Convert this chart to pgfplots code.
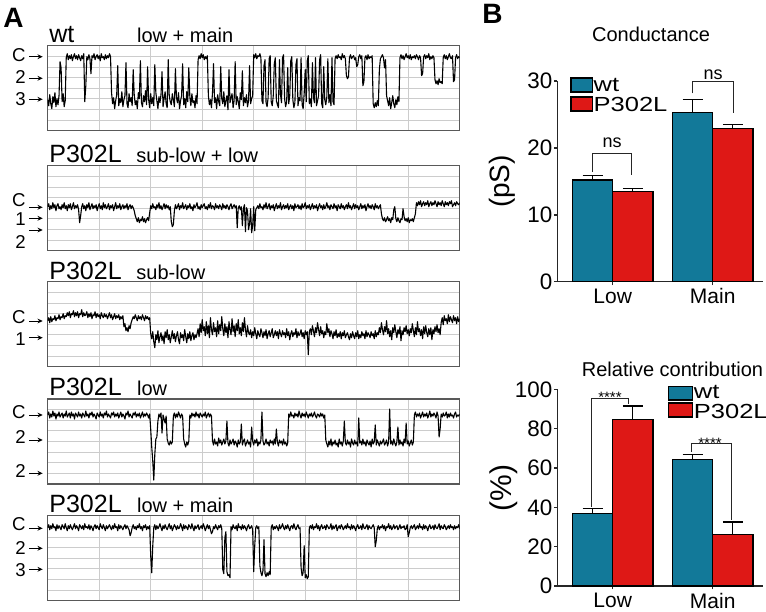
\documentclass[border=0pt]{standalone}
\usepackage{pgfplots}
\pgfplotsset{compat=1.18}
\usepackage{fontspec}
\setmainfont{Liberation Sans}
\newfontfamily\wide{Liberation Sans}[FakeStretch=1.25]
\usetikzlibrary{arrows.meta}
\definecolor{wtc}{RGB}{18,121,153}
\definecolor{p3c}{RGB}{222,24,22}
\newcommand\fs[1]{\fontsize{#1}{#1}\selectfont}
\pgfplotsset{
  trace/.style={scale only axis, width=206pt, height=42.5pt, anchor=north west,
    xmin=0, xmax=400, ymin=0, ymax=85, y dir=reverse,
    xtick={50,100,150,200,250,300,350},
    ytick={10.625,21.25,31.875,42.5,53.125,63.75,74.375},
    xticklabels={}, yticklabels={}, major tick length=0pt,
    grid=major, grid style={black!20, line width=0.4pt},
    axis line style={black!65, line width=0.75pt}},
  tr/.style={black, line width=0.55pt, no marks, line join=round},
  bchart/.style={scale only axis, width=103pt, anchor=south west,
    xmin=-0.554, xmax=1.506, ymin=0, enlargelimits=false,
    axis lines=left, axis line style={-, line width=0.7pt, black!85},
    xtick={0,1}, xticklabels={Low,Main},
    tick align=outside, major tick length=1.7pt, tick style={line width=0.7pt, black!85},
    x tick label style={font=\fs{10.5}, inner ysep=0.3pt, yshift=-1.3pt},
    y tick label style={font=\fs{11.2}, inner xsep=0.6pt},
    /pgf/number format/assume math mode=true, clip=false},
  wtbar/.style={ybar, bar width=0.403, bar shift=-0.2015, fill=wtc, draw=black, line width=0.6pt},
  pbar/.style={ybar, bar width=0.403, bar shift=0.2015, fill=p3c, draw=black, line width=0.6pt},
  eb/.style={black, line width=0.6pt, no marks, forget plot},
}
\begin{document}
\begin{tikzpicture}
\useasboundingbox (0,0) rectangle (383pt,-305.5pt);
% ---------- trace 1: wt low + main
\begin{axis}[trace, at={(23.85pt,-22.85pt)}]
\addplot[tr] table[header=false,row sep=\\,x expr=\coordindex,y index=0]{54\\60\\49\\58\\63\\51\\57\\47\\61\\53\\59\\50\\16\\22\\56\\48\\61\\55\\12\\8\\14\\10\\13\\9\\15\\11\\8\\13\\10\\14\\9\\12\\15\\10\\13\\8\\56\\40\\11\\14\\9\\13\\28\\10\\12\\8\\14\\11\\9\\13\\10\\15\\8\\12\\11\\14\\9\\13\\10\\12\\8\\11\\47\\58\\52\\63\\55\\49\\20\\60\\53\\57\\46\\61\\54\\50\\17\\58\\62\\48\\56\\52\\60\\24\\49\\59\\55\\63\\47\\53\\15\\57\\61\\50\\56\\45\\59\\21\\54\\62\\48\\58\\52\\60\\19\\47\\55\\63\\51\\57\\49\\26\\61\\53\\46\\58\\62\\14\\50\\56\\59\\48\\54\\61\\23\\52\\57\\47\\63\\55\\50\\18\\59\\53\\62\\46\\56\\22\\51\\60\\48\\57\\55\\62\\50\\58\\14\\10\\13\\8\\12\\9\\14\\11\\13\\10\\50\\59\\54\\62\\47\\18\\57\\52\\63\\49\\56\\60\\21\\53\\58\\46\\61\\55\\50\\64\\24\\57\\52\\48\\62\\55\\16\\59\\51\\56\\63\\47\\54\\25\\60\\52\\57\\49\\61\\55\\20\\58\\53\\50\\9\\12\\8\\13\\10\\11\\8\\12\\55\\58\\20\\14\\57\\61\\52\\13\\10\\56\\60\\50\\18\\12\\55\\59\\62\\14\\49\\57\\12\\9\\53\\61\\56\\22\\58\\50\\15\\11\\54\\62\\57\\19\\13\\60\\52\\55\\12\\59\\63\\48\\24\\56\\15\\10\\58\\53\\61\\17\\52\\57\\12\\60\\55\\50\\14\\9\\58\\62\\21\\54\\59\\51\\13\\57\\49\\60\\12\\56\\59\\13\\10\\13\\9\\12\\11\\14\\8\\12\\10\\13\\30\\33\\31\\12\\9\\13\\11\\10\\14\\12\\21\\19\\11\\9\\13\\10\\40\\36\\12\\10\\14\\9\\13\\11\\12\\10\\58\\62\\57\\61\\55\\60\\24\\13\\11\\9\\12\\22\\14\\50\\55\\60\\52\\63\\57\\50\\58\\62\\54\\59\\51\\56\\12\\9\\13\\10\\14\\11\\8\\12\\10\\13\\9\\14\\11\\12\\10\\13\\9\\11\\14\\10\\12\\30\\28\\11\\9\\13\\10\\12\\8\\14\\11\\13\\10\\12\\34\\38\\35\\39\\33\\37\\36\\38\\12\\9\\13\\10\\14\\11\\8\\12\\13\\10\\36\\34\\12\\9\\13\\11\\12\\};
\end{axis}
% ---------- trace 2: P302L sub-low + low
\begin{axis}[trace, at={(23.85pt,-82.85pt)}]
\addplot[tr] table[header=false,row sep=\\,x expr=\coordindex,y index=0]{41\\38\\44\\40\\43\\37\\42\\39\\45\\40\\38\\43\\41\\44\\39\\42\\37\\43\\40\\45\\39\\42\\38\\44\\41\\37\\43\\40\\42\\39\\44\\57\\50\\41\\38\\43\\40\\45\\39\\42\\37\\44\\41\\38\\43\\40\\42\\39\\45\\41\\38\\43\\40\\44\\37\\42\\39\\43\\41\\38\\44\\40\\42\\39\\45\\41\\37\\43\\40\\42\\38\\44\\41\\39\\43\\40\\42\\38\\44\\41\\39\\43\\40\\42\\45\\50\\53\\56\\52\\57\\54\\55\\51\\56\\53\\57\\54\\52\\55\\47\\40\\43\\38\\42\\41\\44\\39\\42\\37\\43\\40\\44\\41\\38\\43\\39\\42\\40\\44\\41\\56\\61\\59\\45\\39\\43\\41\\38\\44\\40\\42\\37\\43\\41\\39\\44\\40\\42\\38\\43\\41\\45\\39\\42\\40\\37\\43\\41\\44\\39\\42\\40\\38\\43\\41\\44\\39\\42\\37\\43\\40\\41\\44\\38\\42\\40\\43\\39\\41\\44\\38\\42\\40\\43\\39\\41\\44\\40\\38\\43\\41\\39\\42\\40\\62\\42\\40\\44\\41\\60\\43\\39\\66\\42\\45\\64\\58\\43\\67\\60\\41\\65\\44\\42\\40\\43\\38\\42\\41\\44\\39\\42\\37\\43\\41\\38\\44\\40\\42\\39\\45\\41\\38\\43\\40\\42\\37\\44\\41\\39\\43\\40\\42\\38\\44\\41\\39\\43\\40\\45\\38\\42\\41\\39\\43\\40\\44\\38\\42\\41\\37\\43\\40\\42\\39\\44\\41\\38\\43\\40\\42\\39\\45\\41\\38\\42\\40\\44\\39\\43\\41\\37\\42\\40\\44\\39\\41\\43\\38\\42\\40\\45\\39\\41\\43\\38\\42\\40\\44\\41\\39\\43\\37\\42\\40\\44\\41\\38\\43\\39\\42\\40\\44\\41\\38\\43\\40\\42\\39\\45\\41\\38\\42\\40\\43\\39\\41\\44\\38\\42\\40\\43\\41\\39\\48\\53\\55\\52\\56\\54\\51\\55\\53\\57\\52\\54\\44\\41\\53\\56\\52\\55\\57\\53\\54\\43\\51\\55\\53\\56\\52\\57\\54\\55\\53\\56\\52\\48\\37\\40\\36\\39\\35\\41\\38\\36\\40\\37\\39\\35\\41\\38\\36\\40\\37\\39\\35\\38\\41\\36\\39\\37\\40\\35\\38\\41\\36\\39\\37\\40\\36\\38\\35\\41\\39\\37\\40\\36\\38\\39\\37\\};
\end{axis}
% ---------- trace 3: P302L sub-low
\begin{axis}[trace, at={(23.85pt,-140.85pt)}]
\addplot[tr] table[header=false,row sep=\\,x expr=\coordindex,y index=0]{39\\36\\41\\35\\40\\37\\38\\34\\39\\36\\37\\33\\38\\35\\36\\32\\37\\34\\35\\31\\34\\30\\36\\32\\33\\29\\35\\31\\34\\30\\36\\32\\33\\28\\35\\31\\34\\33\\30\\36\\32\\35\\31\\37\\33\\34\\30\\36\\32\\35\\33\\37\\31\\34\\36\\32\\35\\33\\37\\34\\31\\36\\33\\38\\35\\32\\37\\34\\36\\33\\38\\35\\37\\34\\45\\42\\49\\46\\50\\44\\47\\41\\38\\35\\37\\33\\36\\39\\34\\37\\35\\38\\33\\36\\39\\34\\37\\35\\38\\36\\52\\57\\50\\60\\66\\53\\58\\49\\61\\55\\51\\59\\54\\62\\50\\56\\48\\58\\53\\61\\55\\49\\57\\52\\60\\54\\50\\58\\62\\51\\56\\53\\59\\48\\55\\61\\52\\57\\50\\59\\54\\51\\58\\53\\56\\52\\47\\55\\42\\51\\38\\49\\45\\54\\40\\52\\44\\56\\36\\48\\53\\41\\50\\46\\55\\39\\52\\43\\49\\35\\47\\54\\42\\51\\45\\56\\40\\48\\53\\37\\50\\44\\55\\42\\49\\38\\52\\46\\54\\41\\50\\36\\48\\55\\44\\51\\53\\48\\56\\50\\54\\46\\52\\57\\49\\53\\55\\47\\51\\56\\50\\54\\48\\57\\52\\49\\55\\51\\47\\56\\53\\49\\54\\50\\57\\48\\52\\55\\49\\53\\51\\56\\47\\54\\50\\58\\52\\49\\55\\51\\53\\47\\56\\50\\54\\52\\48\\55\\51\\57\\49\\53\\50\\73\\50\\47\\53\\44\\49\\55\\46\\51\\41\\48\\54\\45\\52\\49\\56\\50\\53\\42\\51\\47\\55\\49\\52\\57\\50\\54\\48\\56\\52\\55\\50\\57\\51\\54\\49\\56\\53\\51\\55\\58\\52\\56\\50\\54\\57\\51\\55\\49\\57\\53\\56\\50\\54\\52\\57\\49\\55\\51\\53\\56\\50\\54\\52\\57\\49\\55\\51\\53\\46\\51\\41\\48\\53\\45\\50\\39\\52\\47\\55\\49\\58\\46\\51\\43\\50\\56\\48\\52\\45\\59\\49\\53\\46\\50\\44\\52\\48\\54\\47\\51\\42\\49\\55\\46\\53\\40\\50\\47\\54\\48\\57\\45\\52\\44\\51\\55\\47\\53\\46\\58\\48\\52\\45\\50\\43\\51\\47\\53\\41\\36\\43\\34\\39\\37\\42\\33\\40\\35\\38\\41\\34\\39\\36\\42\\35\\40\\37\\};
\end{axis}
% ---------- trace 4: P302L low
\begin{axis}[trace, at={(23.85pt,-199.5pt)}]
\addplot[tr] table[header=false,row sep=\\,x expr=\coordindex,y index=0]{16\\13\\19\\15\\18\\12\\17\\14\\20\\15\\17\\13\\18\\16\\14\\19\\15\\17\\12\\18\\16\\14\\19\\13\\17\\15\\20\\14\\16\\18\\13\\17\\15\\19\\14\\16\\18\\12\\17\\15\\19\\14\\16\\13\\18\\15\\17\\20\\14\\16\\18\\13\\17\\15\\19\\14\\16\\12\\18\\15\\17\\19\\14\\16\\13\\18\\15\\17\\14\\19\\16\\13\\18\\15\\17\\20\\14\\16\\12\\18\\15\\17\\19\\14\\16\\13\\18\\15\\17\\14\\19\\16\\13\\18\\15\\17\\14\\16\\19\\15\\30\\48\\62\\81\\55\\40\\38\\22\\15\\18\\14\\34\\16\\20\\24\\17\\40\\44\\46\\42\\45\\43\\17\\14\\19\\15\\18\\13\\16\\19\\15\\17\\40\\45\\48\\43\\46\\42\\16\\19\\14\\17\\15\\18\\13\\17\\15\\19\\14\\16\\18\\15\\17\\13\\19\\16\\14\\18\\15\\17\\42\\46\\40\\45\\43\\47\\39\\44\\41\\46\\43\\40\\45\\42\\22\\44\\47\\41\\45\\43\\40\\46\\42\\44\\48\\41\\45\\43\\25\\46\\42\\40\\47\\44\\41\\45\\43\\48\\28\\42\\46\\41\\44\\40\\47\\43\\45\\41\\13\\42\\46\\44\\40\\45\\43\\47\\41\\44\\42\\46\\40\\45\\30\\43\\47\\41\\44\\42\\46\\40\\45\\43\\47\\44\\15\\18\\13\\17\\16\\19\\14\\17\\15\\18\\12\\16\\19\\14\\17\\15\\18\\13\\16\\19\\15\\17\\14\\18\\16\\13\\17\\19\\15\\16\\18\\14\\17\\15\\19\\16\\41\\45\\48\\42\\46\\40\\47\\43\\45\\41\\46\\44\\48\\40\\45\\43\\47\\42\\22\\44\\46\\41\\45\\43\\48\\40\\44\\46\\41\\45\\43\\47\\19\\44\\42\\46\\40\\45\\43\\47\\41\\44\\46\\42\\48\\40\\45\\43\\26\\46\\41\\44\\47\\42\\45\\43\\40\\46\\44\\41\\47\\43\\10\\45\\42\\46\\40\\44\\47\\43\\28\\46\\41\\45\\43\\47\\40\\44\\24\\45\\42\\47\\44\\41\\46\\43\\16\\13\\18\\15\\17\\14\\19\\16\\13\\18\\15\\17\\14\\19\\16\\12\\18\\15\\17\\14\\16\\19\\13\\17\\38\\30\\15\\18\\14\\17\\16\\13\\19\\15\\18\\14\\17\\16\\19\\15\\13\\18\\16\\17\\15\\};
\end{axis}
% ---------- trace 5: P302L low + main
\begin{axis}[trace, at={(23.85pt,-257.85pt)}]
\addplot[tr] table[header=false,row sep=\\,x expr=\coordindex,y index=0]{12\\9\\14\\10\\13\\8\\12\\11\\15\\9\\13\\10\\12\\14\\9\\11\\13\\8\\12\\15\\10\\13\\9\\12\\14\\11\\8\\13\\10\\12\\15\\9\\11\\13\\10\\14\\8\\12\\11\\13\\9\\14\\10\\12\\15\\11\\9\\13\\10\\12\\14\\8\\11\\13\\9\\12\\15\\10\\13\\11\\9\\12\\14\\10\\13\\8\\12\\11\\15\\9\\13\\10\\12\\14\\11\\9\\13\\10\\12\\14\\20\\17\\12\\9\\13\\11\\14\\10\\12\\8\\13\\11\\15\\10\\12\\9\\14\\11\\13\\10\\40\\57\\30\\12\\9\\14\\10\\13\\11\\8\\12\\15\\10\\13\\9\\12\\14\\11\\8\\13\\10\\15\\12\\9\\11\\14\\10\\13\\12\\8\\11\\15\\9\\13\\10\\12\\14\\9\\11\\13\\8\\12\\15\\10\\13\\11\\9\\14\\12\\10\\13\\8\\11\\15\\12\\9\\13\\10\\14\\18\\16\\11\\13\\9\\12\\14\\10\\12\\9\\13\\54\\58\\22\\16\\56\\60\\59\\62\\11\\14\\9\\12\\13\\10\\15\\8\\12\\11\\14\\9\\13\\10\\12\\15\\11\\9\\13\\12\\10\\14\\56\\30\\12\\10\\13\\11\\50\\57\\60\\55\\24\\58\\61\\57\\60\\56\\59\\12\\9\\14\\11\\13\\10\\12\\15\\9\\13\\11\\8\\12\\14\\10\\13\\9\\12\\15\\11\\10\\13\\8\\12\\14\\11\\9\\13\\12\\52\\60\\57\\30\\62\\59\\63\\61\\12\\10\\13\\9\\14\\11\\12\\8\\13\\10\\15\\11\\9\\13\\12\\10\\14\\9\\11\\13\\12\\8\\14\\10\\13\\11\\9\\15\\12\\10\\13\\9\\11\\14\\12\\10\\13\\8\\12\\11\\14\\9\\13\\10\\12\\15\\11\\9\\13\\12\\10\\14\\8\\12\\13\\11\\9\\14\\10\\12\\13\\11\\9\\12\\31\\25\\13\\10\\14\\11\\12\\9\\13\\10\\15\\11\\12\\8\\13\\10\\14\\12\\9\\13\\11\\10\\14\\12\\9\\13\\11\\12\\10\\14\\13\\9\\21\\17\\12\\10\\13\\11\\9\\14\\12\\10\\13\\8\\12\\11\\14\\9\\13\\10\\12\\15\\11\\9\\13\\12\\10\\14\\9\\12\\13\\11\\8\\14\\10\\12\\13\\9\\11\\14\\12\\10\\13\\9\\12\\11\\14\\10\\13\\11\\12\\9\\13\\};
\end{axis}
% ---------- B: Conductance
\begin{axis}[bchart, at={(278.65pt,-140.85pt)}, height=100.35pt, ymax=30, ytick={0,10,20,30}]
\addplot[wtbar] coordinates {(0,15.2) (1,25.3)};
\addplot[pbar] coordinates {(0,13.5) (1,22.9)};
% error bars (mean to mean+SEM) and caps
\addplot[eb] coordinates {(-0.2015,15.2) (-0.2015,15.85)};
\addplot[eb] coordinates {(-0.3015,15.85) (-0.1015,15.85)};
\addplot[eb] coordinates {(0.2015,13.5) (0.2015,13.9)};
\addplot[eb] coordinates {(0.1015,13.9) (0.3015,13.9)};
\addplot[eb] coordinates {(0.7985,25.3) (0.7985,27.2)};
\addplot[eb] coordinates {(0.6985,27.2) (0.8985,27.2)};
\addplot[eb] coordinates {(1.2015,22.9) (1.2015,23.55)};
\addplot[eb] coordinates {(1.1015,23.55) (1.3015,23.55)};
\draw[line width=0.6pt, black!85] (axis cs:-0.204,16.45) -- (axis cs:-0.204,19.2) -- (axis cs:0.19,19.2) -- (axis cs:0.19,16.0);
\node[anchor=base, font=\fs{9}, inner sep=0pt] at (axis cs:-0.007,20.05) {ns};
\draw[line width=0.6pt, black!85] (axis cs:0.8,28.16) -- (axis cs:0.8,29.9) -- (axis cs:1.206,29.9) -- (axis cs:1.206,25.26);
\node[anchor=base, font=\fs{9}, inner sep=0pt] at (axis cs:1.003,30.26) {ns};
\end{axis}
% ---------- B: Relative contribution
\begin{axis}[bchart, at={(278.65pt,-293pt)}, height=98.35pt, ymax=100, ytick={0,20,40,60,80,100}]
\addplot[wtbar] coordinates {(0,37) (1,64.5)};
\addplot[pbar] coordinates {(0,84.5) (1,26)};
\addplot[eb] coordinates {(-0.2015,37) (-0.2015,39.5)};
\addplot[eb] coordinates {(-0.3015,39.5) (-0.1015,39.5)};
\addplot[eb] coordinates {(0.2015,84.5) (0.2015,91.5)};
\addplot[eb] coordinates {(0.1015,91.5) (0.3015,91.5)};
\addplot[eb] coordinates {(0.7985,64.5) (0.7985,67)};
\addplot[eb] coordinates {(0.6985,67) (0.8985,67)};
\addplot[eb] coordinates {(1.2015,26) (1.2015,32.5)};
\addplot[eb] coordinates {(1.1015,32.5) (1.3015,32.5)};
\draw[line width=0.6pt, black!85] (axis cs:-0.21,40.3) -- (axis cs:-0.21,95.4) -- (axis cs:0.156,95.4) -- (axis cs:0.156,92.6);
\node[anchor=base, font=\fs{7.5}, inner sep=0pt] at (axis cs:-0.027,93.5) {****};
\draw[line width=0.6pt, black!85] (axis cs:0.79,68.3) -- (axis cs:0.79,72.5) -- (axis cs:1.19,72.5) -- (axis cs:1.19,33.5);
\node[anchor=base, font=\fs{7.5}, inner sep=0pt] at (axis cs:0.973,69.7) {****};
\end{axis}
% ---------- annotations (pixel units)
\begin{scope}[x=0.5pt,y=-0.5pt]
\node[anchor=base west, inner sep=0pt, font=\fs{14}\bfseries] at (3,27) {A};
\node[anchor=base west, inner sep=0pt, font=\fs{14}\bfseries] at (482,23.3) {B};
% trace titles
\node[anchor=base west, inner sep=0pt, font=\fs{12.5}] at (49,42.7) {wt};
\node[anchor=base west, inner sep=0pt, font=\fs{10}] at (136.7,42.7) {low + main};
\node[anchor=base west, inner sep=0pt, font=\fs{12.5}] at (49,162) {P302L};
\node[anchor=base west, inner sep=0pt, font=\fs{10}] at (136,162) {sub-low + low};
\node[anchor=base west, inner sep=0pt, font=\fs{12.5}] at (49,279) {P302L};
\node[anchor=base west, inner sep=0pt, font=\fs{10}] at (136,279) {sub-low};
\node[anchor=base west, inner sep=0pt, font=\fs{12.5}] at (49,395) {P302L};
\node[anchor=base west, inner sep=0pt, font=\fs{10}] at (136.7,395) {low};
\node[anchor=base west, inner sep=0pt, font=\fs{12.5}] at (49,512.7) {P302L};
\node[anchor=base west, inner sep=0pt, font=\fs{10}] at (136.7,512.7) {low + main};
% level labels
\tikzset{lv/.style={anchor=east, inner sep=0pt, font=\fs{9.3}}, ar/.style={-{Stealth[length=2.6pt,width=2.4pt]}, line width=0.5pt}}
\foreach \y in {56.7,78.3,99.3,207.3,218.3,230,321,337.7,415,440,473.3,528.3,548.3,569.3} {\draw[ar] (29.3,\y) -- (42.7,\y);}
\node[lv] at (26,55) {C}; \node[lv] at (26,77.5) {2}; \node[lv] at (26,98.8) {3};
\node[lv] at (26,200) {C}; \node[lv] at (26,219) {1}; \node[lv] at (26,241.7) {2};
\node[lv] at (26,316.7) {C}; \node[lv] at (26,339) {1};
\node[lv] at (26,412.5) {C}; \node[lv] at (26,437.5) {2}; \node[lv] at (26,471) {2};
\node[lv] at (26,524) {C}; \node[lv] at (26,548.3) {2}; \node[lv] at (26,570) {3};
% B titles and labels
\node[anchor=base, inner sep=0pt, font=\fs{10}] at (651,41.7) {Conductance};
\node[anchor=base, inner sep=0pt, font=\fs{10}] at (672.5,376) {Relative contribution};
\node[rotate=90, inner sep=0pt, font=\fs{14}] at (502,181.5) {(pS)};
\node[rotate=90, inner sep=0pt, font=\fs{15}] at (504,488) {(\%)};
% legends
\filldraw[fill=wtc, draw=black, line width=0.6pt] (571,78) rectangle (592.3,92);
\filldraw[fill=p3c, draw=black, line width=0.6pt] (571,97) rectangle (592.3,111);
\node[anchor=west, inner sep=0pt, font=\wide\fs{10.2}] at (593.3,85) {wt};
\node[anchor=west, inner sep=0pt, font=\wide\fs{10.2}] at (593.3,104) {P302L};
\filldraw[fill=wtc, draw=black, line width=0.6pt] (668.3,386.7) rectangle (692.7,400);
\filldraw[fill=p3c, draw=black, line width=0.6pt] (668.3,403) rectangle (692.7,417);
\node[anchor=west, inner sep=0pt, font=\wide\fs{10.2}] at (693.5,392.3) {wt};
\node[anchor=west, inner sep=0pt, font=\wide\fs{10.2}] at (693.5,411) {P302L};
\end{scope}
\end{tikzpicture}
\end{document}
